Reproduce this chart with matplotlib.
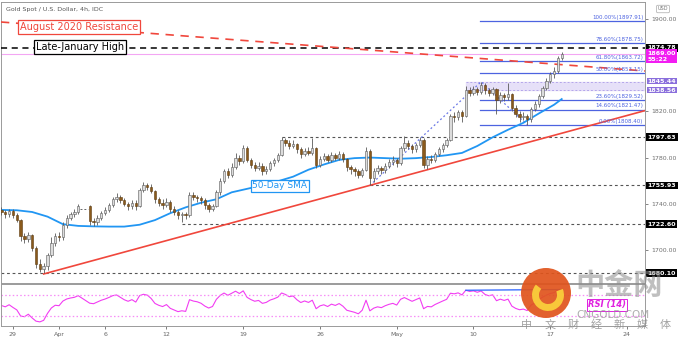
import numpy as np
import pandas as pd
import matplotlib
matplotlib.use('Agg')
import matplotlib.pyplot as plt
from matplotlib.patches import Ellipse, Arc

# ---- data: gold candles, 4 per trading day (NaN = Good Friday gap) ----
first_open = 1735
closes = [1733, 1731, 1734, 1730, 1726, 1712, 1710, 1713, 1702, 1688,
          1684, 1686, 1696, 1706, 1712, 1711, 1722, 1728, 1731, 1733,
          1738, np.nan, np.nan, 1725, 1724, 1728, 1732, 1735, 1739, 1744,
          1746, 1743, 1740, 1738, 1741, 1738, 1752, 1756, 1755, 1751,
          1744, 1741, 1739, 1742, 1736, 1733, 1730, 1731, 1730, 1748,
          1746, 1745, 1743, 1739, 1736, 1738, 1750, 1760, 1768, 1765,
          1772, 1780, 1777, 1788, 1778, 1774, 1771, 1773, 1768, 1770,
          1775, 1778, 1782, 1795, 1793, 1790, 1792, 1787, 1783, 1786,
          1784, 1788, 1774, 1779, 1781, 1778, 1782, 1780, 1783, 1779,
          1772, 1770, 1768, 1765, 1769, 1786, 1762, 1768, 1771, 1769,
          1773, 1776, 1778, 1775, 1788, 1793, 1790, 1787, 1791, 1795,
          1774, 1779, 1778, 1783, 1787, 1791, 1795, 1816, 1815, 1819,
          1816, 1838, 1836, 1839, 1837, 1843, 1838, 1836, 1839, 1830,
          1834, 1832, 1835, 1823, 1818, 1815, 1816, 1813, 1822, 1826,
          1833, 1840, 1846, 1852, 1855, 1866, 1869]
highs = [1737, 1735, 1736, 1736, 1732, 1727, 1715, 1716, 1714, 1704,
         1692, 1689, 1698, 1711, 1715, 1716, 1724, 1730, 1733, 1736,
         1740, np.nan, np.nan, 1739, 1728, 1730, 1734, 1737, 1741, 1746,
         1749, 1748, 1745, 1742, 1743, 1743, 1754, 1759, 1758, 1757,
         1752, 1746, 1744, 1745, 1743, 1738, 1735, 1733, 1733, 1750,
         1750, 1748, 1747, 1745, 1741, 1740, 1752, 1762, 1770, 1771,
         1775, 1784, 1782, 1791, 1790, 1780, 1776, 1776, 1775, 1773,
         1777, 1780, 1784, 1797.6, 1797, 1795, 1795, 1793, 1789, 1788,
         1789, 1797, 1789, 1781, 1784, 1783, 1785, 1784, 1786, 1785,
         1780, 1774, 1772, 1770, 1771, 1789, 1787, 1771, 1774, 1773,
         1775, 1779, 1781, 1780, 1790, 1798.6, 1795, 1792, 1793, 1798,
         1797, 1781, 1782, 1785, 1789, 1793, 1797, 1818, 1819, 1821,
         1821, 1842, 1841, 1842, 1841, 1845.4, 1844, 1840, 1841, 1840,
         1837, 1836, 1844, 1836, 1825, 1820, 1819, 1818, 1824, 1829,
         1835, 1842, 1849, 1854, 1858, 1868, 1871.5]
lows = [1730, 1728, 1729, 1728, 1724, 1708, 1706, 1707, 1699, 1685,
        1681, 1680, 1683, 1694, 1704, 1708, 1709, 1719, 1726, 1729,
        1731, np.nan, np.nan, 1722, 1721, 1722, 1726, 1730, 1733, 1737,
        1742, 1741, 1738, 1735, 1736, 1735, 1737, 1750, 1752, 1749,
        1741, 1738, 1736, 1737, 1733, 1730, 1727, 1724, 1727, 1729,
        1743, 1742, 1740, 1736, 1733, 1734, 1737, 1748, 1758, 1762,
        1763, 1770, 1774, 1775, 1776, 1771, 1768, 1769, 1765, 1766,
        1768, 1773, 1776, 1781, 1790, 1787, 1788, 1784, 1780, 1781,
        1782, 1782, 1771, 1772, 1777, 1776, 1776, 1778, 1778, 1776,
        1768, 1766, 1764, 1762, 1763, 1768, 1755.9, 1759, 1766, 1766,
        1767, 1771, 1774, 1772, 1774, 1786, 1787, 1784, 1785, 1789,
        1771, 1770, 1775, 1776, 1781, 1785, 1789, 1794, 1811, 1812,
        1811, 1815, 1833, 1834, 1834, 1835, 1835, 1833, 1834, 1818,
        1827, 1829, 1830, 1820, 1815, 1811, 1812, 1808.4, 1811, 1820,
        1824, 1831, 1838, 1844, 1849, 1853, 1864]

# 50-day SMA read once per trading day
sma_days = list(range(0, 145, 4)) + [146]
sma_vals = [1734.8, 1734.5, 1733, 1729, 1722.5, 1721, 1720.6, 1720.4, 1720.4, 1722,
            1726, 1732, 1737, 1741, 1744, 1750, 1753, 1756, 1759.5, 1763.5,
            1769.5, 1774, 1778, 1779.5, 1780, 1779.5, 1779, 1779.5, 1780.5, 1782,
            1784, 1790, 1797.5, 1804, 1810, 1818, 1825.6, 1830.5]

date_pos = [3, 15, 27, 43, 63, 83, 103, 123, 143, 163]
date_labels = ['29', 'Apr', '6', '12', '19', '26', 'May', '10', '17', '24']

fib_pct = ['0.00%', '14.60%', '23.60%', '50.00%', '61.80%', '78.60%', '100.00%']
fib_px = [1808.40, 1821.47, 1829.52, 1853.15, 1863.72, 1878.75, 1897.91]
fib_swing_idx = [96, 125, 137]
fib_swing_px = [1755.93, 1845.44, 1808.40]

support_px = [1680.10, 1722.60, 1755.93, 1797.63]
support_from = [-1, 47, 96, 73]
zone_lo, zone_hi = 1838.56, 1845.44
late_jan_high = 1874.78
last_price = 1869.00
trend_idx = [11, 156]
trend_px = [1679.5, 1810.0]
resist_idx = [0, 150]
resist_px = [1897.0, 1859.2]
axis_ticks = [1680, 1700, 1740, 1780, 1820, 1900]

XMIN, XMAX = -0.12, 167.7
W, H = 680, 342


def fx(px):
    return px / W


def fy(py):
    return 1 - py / H


fig = plt.figure(figsize=(6.8, 3.42), dpi=100)
ax = fig.add_axes([fx(1), fy(283), (645 - 1) / W, (283 - 2) / H])
rx = fig.add_axes([fx(1), fy(326), (645 - 1) / W, (326 - 284) / H])

# ---- candles ----
c = np.array(closes, dtype=float)
o = np.concatenate([[first_open], c[:-1]])
for k in range(1, len(o)):
    if np.isnan(o[k]):
        o[k] = o[k - 1]
hi = np.array(highs, dtype=float)
lo = np.array(lows, dtype=float)
idx = np.arange(len(c))
ok = ~np.isnan(c)
up = ok & (c >= o)
dn = ok & (c < o)

ax.vlines(idx[ok], lo[ok], hi[ok], color='#5a5a5a', lw=0.6, zorder=4)
ax.bar(idx[up], np.maximum(c[up] - o[up], 0.4), bottom=o[up], width=0.62,
       color='#dcdcdc', edgecolor='#5a5a5a', lw=0.4, zorder=5)
ax.bar(idx[dn], c[dn] - o[dn], bottom=o[dn], width=0.62,
       color='#8a5a1c', edgecolor='#5e3c10', lw=0.4, zorder=5)
# holiday gap marker
gap = np.where(~ok)[0]
ax.plot([gap[0] - 0.5, gap[-1] + 0.5], [c[gap[0] - 1] - 2.3] * 2,
        ls=(0, (2, 2)), color='#666666', lw=0.7, zorder=3)

# ---- levels ----
for p, s in zip(support_px, support_from):
    ax.plot([max(s, XMIN), XMAX], [p, p], ls=(0, (2.5, 2.5)), color='#555555', lw=0.8, zorder=2)

ax.fill_between([121, XMAX], zone_lo, zone_hi, color='#e6e0f8', zorder=1)
for p in (zone_lo, zone_hi):
    ax.plot([121, XMAX], [p, p], ls=(0, (2, 2)), color='#b4a6ea', lw=0.7, zorder=1.5)

fib_start = 124.6
for pct, p in zip(fib_pct, fib_px):
    ax.plot([fib_start, XMAX], [p, p], color='#4d63e0', lw=0.9, zorder=2)
    ax.text(XMAX - 0.4, p + 0.9, f'{pct}({p:.2f})', ha='right', va='bottom',
            fontsize=4, color='#4d63e0', zorder=6)
ax.plot(fib_swing_idx, fib_swing_px, ls=(0, (1.5, 2)), color='#6a78e6', lw=0.9, zorder=3)

ax.axhline(late_jan_high, color='black', ls=(0, (4, 3)), lw=1.1, zorder=3)
ax.axhline(last_price, color='#f3a6f3', lw=0.8, zorder=2)

ts = (trend_px[1] - trend_px[0]) / (trend_idx[1] - trend_idx[0])
ax.plot([trend_idx[0], XMAX], [trend_px[0], trend_px[0] + ts * (XMAX - trend_idx[0])],
        color='#f0473c', lw=1.2, zorder=3)
rs = (resist_px[1] - resist_px[0]) / (resist_idx[1] - resist_idx[0])
ax.plot([XMIN, XMAX], [resist_px[0] + rs * (XMIN - resist_idx[0]), resist_px[0] + rs * (XMAX - resist_idx[0])],
        color='#f0473c', ls=(0, (5, 4)), lw=1.2, zorder=3)

ax.plot(sma_days, sma_vals, color='#2196f3', lw=1.3, zorder=3)

ax.set_xlim(XMIN, XMAX)
ax.set_ylim(1671.7, 1914.3)
ax.set_xticks([])
ax.yaxis.tick_right()
ax.set_yticks(axis_ticks)
ax.set_yticklabels([f'{v:.2f}' for v in axis_ticks])
ax.tick_params(axis='y', labelsize=4.5, colors='#707070', length=2.5, pad=2, width=0.6)
for sp in ax.spines.values():
    sp.set_color('#9a9a9a')
    sp.set_linewidth(0.7)


def price_box(p, label, fc, pad=0.22):
    ax.text(1.004, p, label, transform=ax.get_yaxis_transform(), ha='left', va='center',
            fontsize=4.5, color='white', weight='bold', linespacing=1.25, clip_on=False, zorder=10,
            bbox=dict(boxstyle=f'square,pad={pad}', fc=fc, ec='none'))


for p in support_px:
    price_box(p, f'{p:.2f}', 'black')
price_box(late_jan_high, f'{late_jan_high:.2f}', 'black')
price_box(zone_hi + 0.4, f'{zone_hi:.2f}', '#8a6fdc', pad=0.1)
price_box(zone_lo - 0.4, f'{zone_lo:.2f}', '#8a6fdc', pad=0.1)
price_box(last_price - 1.6, f'{last_price:.2f}\n55:22', '#f21df2')

# ---- RSI: 14 bars of 4h ~ 10 of these quarter-day bars ----
rsi_len = 10
valid = pd.Series(c).dropna()
diffs = valid.diff().fillna(0).values
ag, al = 2.4, 2.4
rsi_vals = []
for d in diffs:
    ag = (ag * (rsi_len - 1) + max(d, 0)) / rsi_len
    al = (al * (rsi_len - 1) + max(-d, 0)) / rsi_len
    rsi_vals.append(100 - 100 / (1 + ag / al))
rsi = pd.Series(rsi_vals, index=valid.index)

rx.plot(rsi.index, rsi.values, color='#f23cf2', lw=0.8)
for lvl in (70, 30):
    rx.axhline(lvl, color='#f78cf7', ls=(0, (1.2, 1.8)), lw=0.9)
div_a = int(rsi.loc[110:126].idxmax())
div_b = int(rsi.index[-1])
rx.plot([div_a, div_b], [rsi[div_a], rsi[div_b]], color='#2962ff', lw=0.9)
rx.set_xlim(XMIN, XMAX)
rx.set_ylim(11, 91)
rx.set_yticks([])
rx.set_xticks(date_pos)
rx.set_xticklabels(date_labels)
rx.tick_params(axis='x', labelsize=4.5, colors='#666666', length=2, pad=2, width=0.6)
for sp in rx.spines.values():
    sp.set_color('#9a9a9a')
    sp.set_linewidth(0.7)

# ---- annotations ----
fig.text(fx(6), fy(10), 'Gold Spot / U.S. Dollar, 4h, IDC', fontsize=4.5, color='#555555', va='center')
fig.text(fx(663), fy(9), 'USD', fontsize=3.6, color='#777777', ha='center', va='center',
         bbox=dict(boxstyle='round,pad=0.25', fc='white', ec='#aaaaaa', lw=0.5))
fig.text(fx(79), fy(27), 'August 2020 Resistance', fontsize=7, color='#f0473c', ha='center', va='center',
         zorder=20, bbox=dict(boxstyle='square,pad=0.22', fc='white', ec='#f0473c', lw=0.9))
fig.text(fx(80), fy(47), 'Late-January High', fontsize=7, color='black', ha='center', va='center',
         zorder=20, bbox=dict(boxstyle='square,pad=0.22', fc='white', ec='black', lw=0.9))
fig.text(fx(280), fy(186), '50-Day SMA', fontsize=6.5, color='#2196f3', ha='center', va='center',
         zorder=20, bbox=dict(boxstyle='square,pad=0.22', fc='white', ec='#2196f3', lw=0.9))
fig.text(fx(607), fy(305), 'RSI (14)', fontsize=6, color='#e020e0', style='italic', weight='bold',
         ha='center', va='center', zorder=20,
         bbox=dict(boxstyle='square,pad=0.15', fc='white', ec='#e020e0', lw=0.7))

# ---- watermark ----
fig.patches.append(Ellipse((fx(546), fy(293)), 50 / W, 50 / H, transform=fig.transFigure,
                           fc='#e0541c', ec='none', alpha=0.92, zorder=30))
fig.patches.append(Arc((fx(548), fy(295)), 25 / W, 25 / H, transform=fig.transFigure,
                       theta1=120, theta2=400, color='#f8c83a', lw=5, zorder=31))
fig.text(fx(619), fy(285), '中金网', fontsize=21, weight='bold', color='#8c8c8c', alpha=0.55,
         ha='center', va='center', family=['Noto Sans CJK SC', 'DejaVu Sans'], zorder=30)
fig.text(fx(613), fy(315), 'CNGOLD.COM', fontsize=7.5, color='#9a9a9a', alpha=0.8,
         ha='center', va='center', zorder=30)
for k, ch in enumerate('中文财经新媒体'):
    fig.text(fx(527 + 23 * k), fy(325), ch, fontsize=8, color='#8c8c8c', alpha=0.8,
             ha='center', va='center', family=['Noto Sans CJK SC', 'DejaVu Sans'], zorder=30)

fig.savefig('out.png', dpi=100)
